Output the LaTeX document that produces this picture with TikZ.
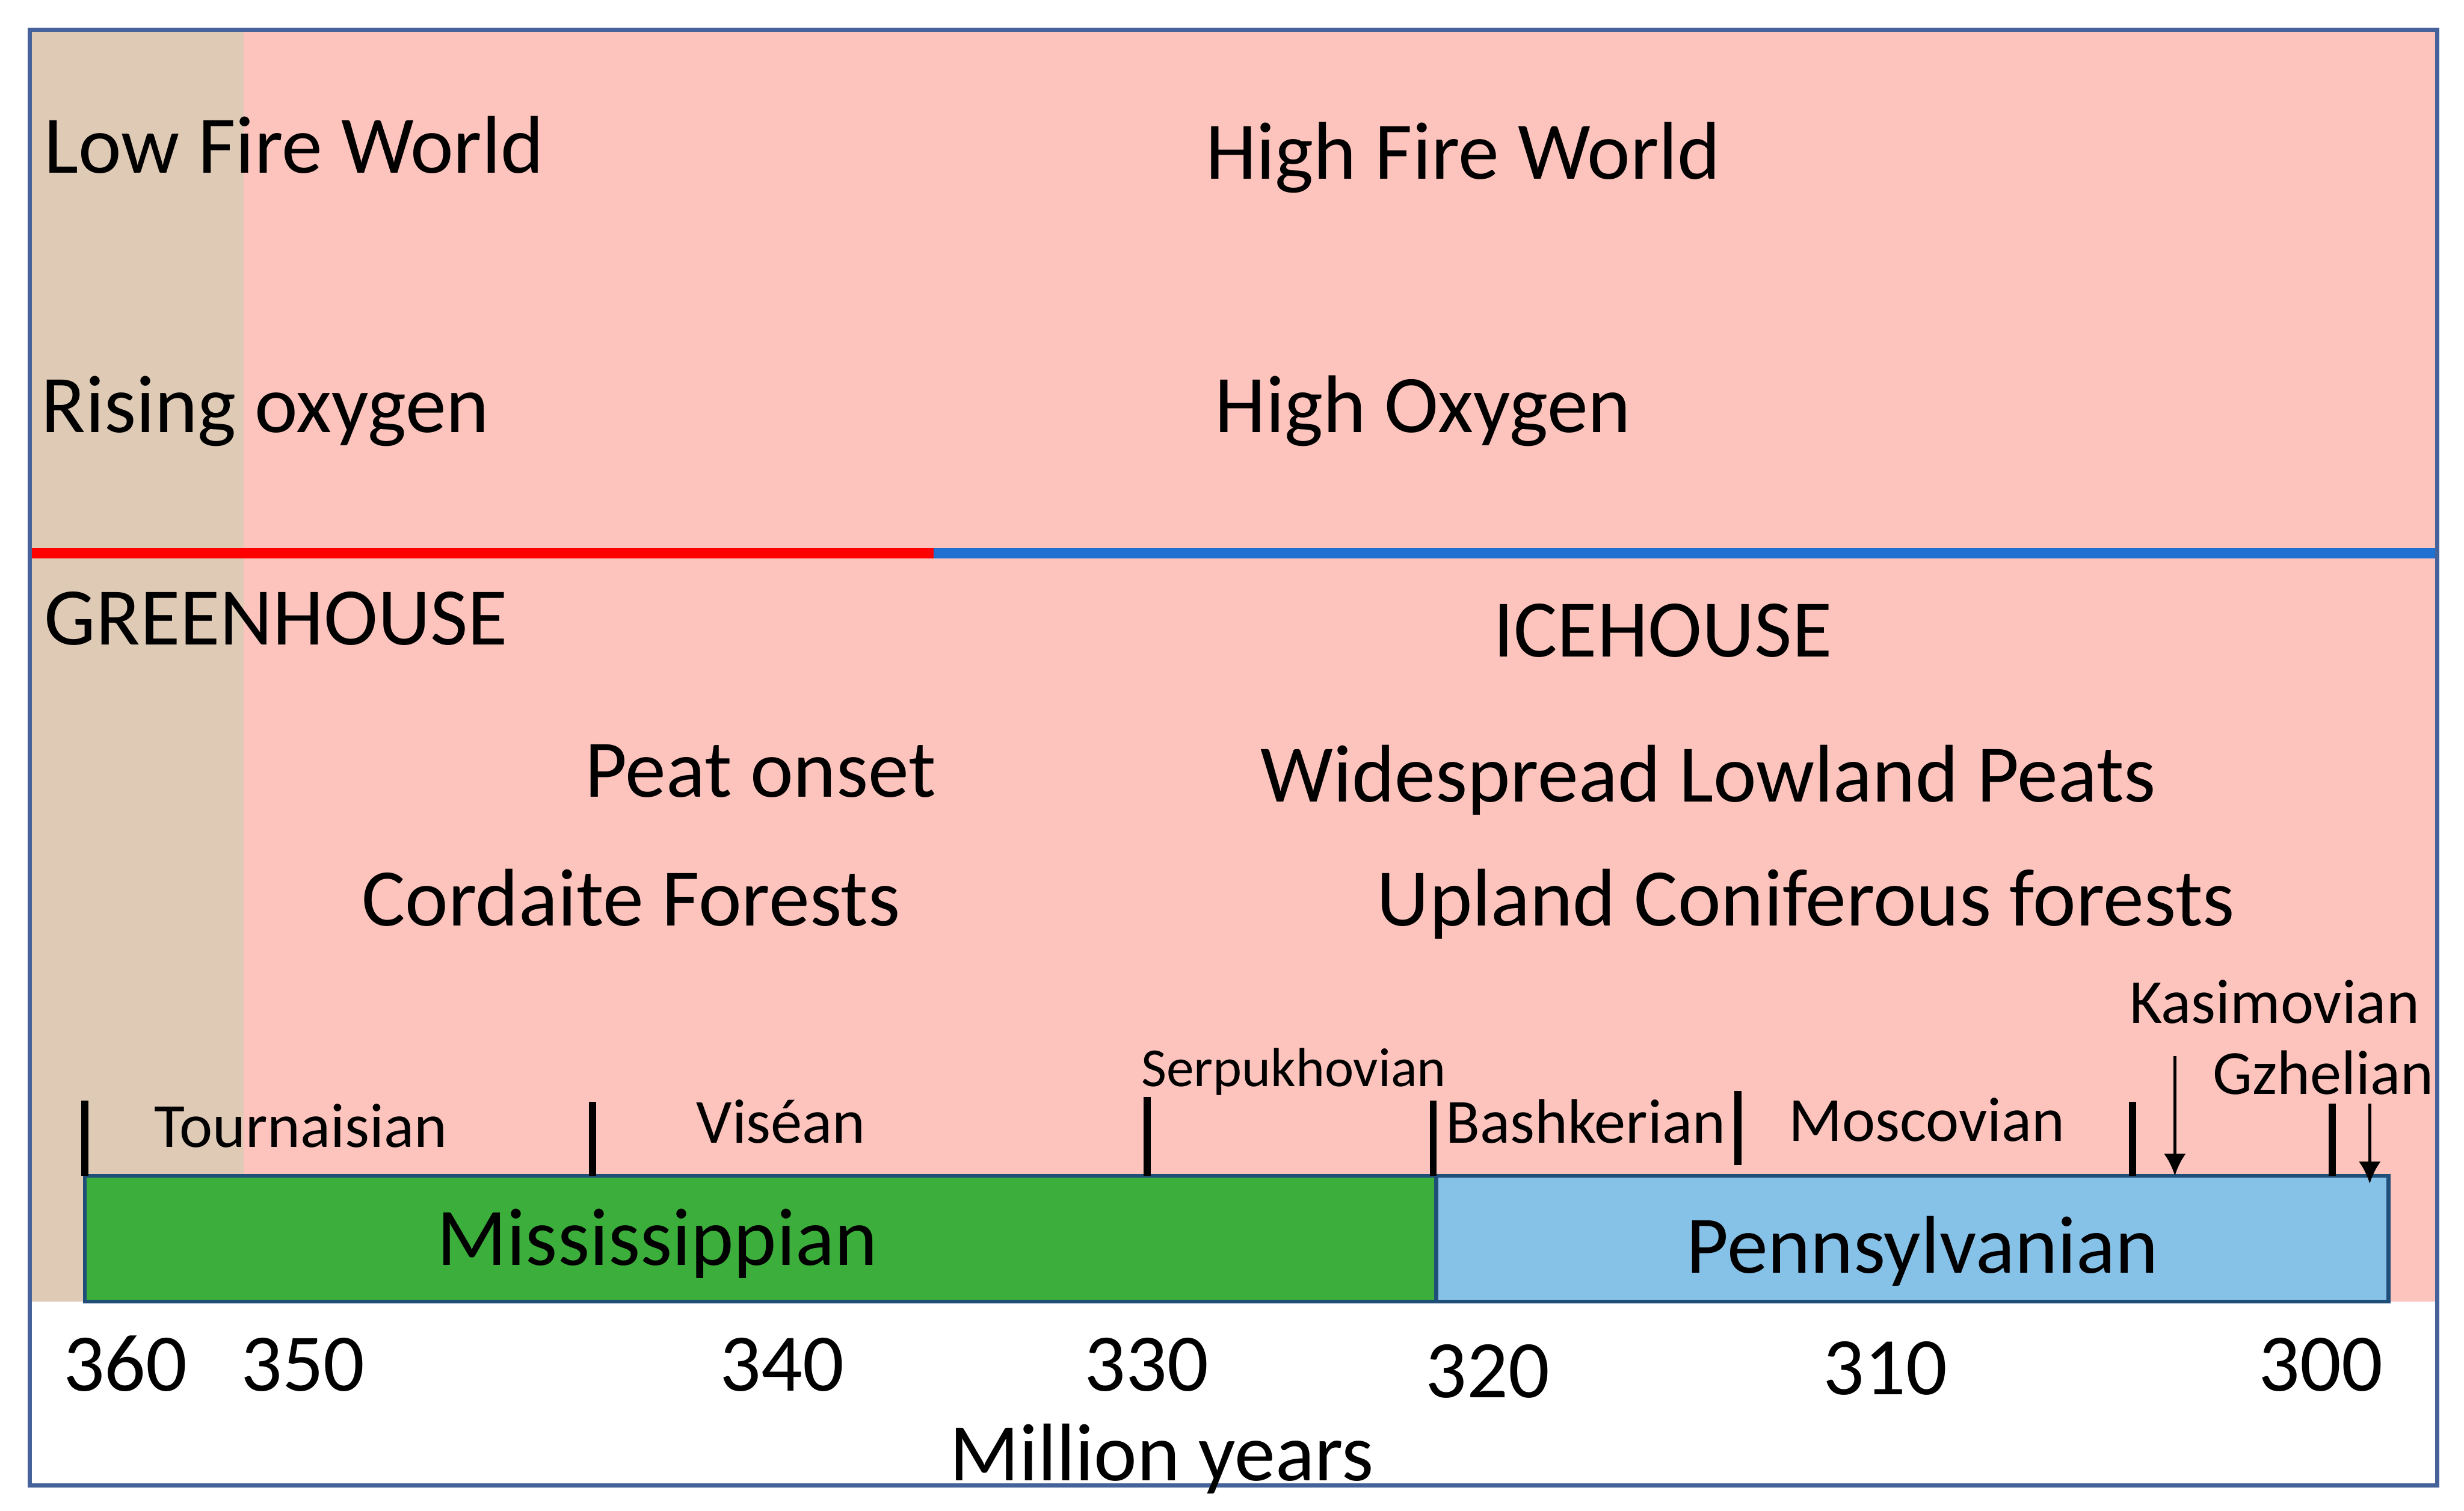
\documentclass[tikz,border=0pt]{standalone}
\usepackage{fontspec}
\setmainfont{Carlito}
\usetikzlibrary{arrows.meta}
\definecolor{pinkbg}{HTML}{FDC4BE}
\definecolor{tanbg}{HTML}{DFCAB6}
\definecolor{framecol}{HTML}{45639A}
\definecolor{barline}{HTML}{1F4E79}
\definecolor{missgreen}{HTML}{3BAE3B}
\definecolor{pennblue}{HTML}{86C1E8}
\definecolor{redline}{HTML}{FF0000}
\definecolor{blueline}{HTML}{1F70D0}
\begin{document}
\begin{tikzpicture}[x=1pt,y=-1pt,
  big/.style={anchor=base west,inner sep=0pt,font=\fontsize{52}{60}\selectfont},
  stage/.style={anchor=base west,inner sep=0pt,font=\fontsize{40}{48}\selectfont},
  smallstage/.style={anchor=base west,inner sep=0pt,font=\fontsize{35}{42}\selectfont},
  tickmark/.style={line width=4.5pt},
  arr/.style={line width=2pt,-{Latex[length=14pt,width=14pt]}},
  bar/.style={draw=barline,line width=2.5pt}]
\useasboundingbox (0,0) rectangle (1568,961);
\fill[white] (0,0) rectangle (1568,961);
% background regions
\fill[pinkbg] (19,19) rectangle (1551,828);
\fill[tanbg] (19,19) rectangle (155,828);
% greenhouse / icehouse divider
\draw[redline,line width=6.5pt] (19,352) -- (594,352);
\draw[blueline,line width=6.5pt] (594,352) -- (1551,352);
% frame
\draw[framecol,line width=2.5pt] (19,19) rectangle (1551,945);
% period bars
\draw[bar,fill=missgreen] (54,748) rectangle (914,828);
\draw[bar,fill=pennblue] (914,748) rectangle (1520,828);
% top texts
\node[big] (lowfire) at (28,110) {Low Fire World};
\node[big] (highfire) at (767,114) {High Fire World};
\node[big] (rising) at (26,275) {Rising oxygen};
\node[big] (highox) at (773,275) {High Oxygen};
\node[big] (greenhouse) at (28,410) {GREENHOUSE};
\node[big] (icehouse) at (950,418) {ICEHOUSE};
\node[big] (peat) at (372,507) {Peat onset};
\node[big] (widespread) at (802,510) {Widespread Lowland Peats};
\node[big] (cordaite) at (230,589) {Cordaite Forests};
\node[big] (upland) at (876,589) {Upland Coniferous forests};
% stages
\node[stage] (tourn) at (98,730) {Tournaisian};
\node[stage] (visean) at (443,727) {Viséan};
\node[smallstage] (serp) at (726,691) {Serpukhovian};
\node[stage] (bash) at (920,727) {Bashkerian};
\node[stage] (mosc) at (1138,726) {Moscovian};
\node[stage] (kasim) at (1355,651) {Kasimovian};
\node[stage] (gzhel) at (1408,696) {Gzhelian};
% period labels
\node[big] (miss) at (278,805) {Mississippian};
\node[big] (penn) at (1073,810) {Pennsylvanian};
% ages
\node[big] (a360) at (40,885) {360};
\node[big] (a350) at (153,885) {350};
\node[big] (a340) at (458,885) {340};
\node[big] (a330) at (690,885) {330};
\node[big] (a320) at (907,889) {320};
\node[big] (a310) at (1160,887) {310};
\node[big] (a300) at (1437,885) {300};
\node[big] (myr) at (604,942) {Million years};
% stage boundary ticks
\coordinate (t1a) at (54,700); \coordinate (t1b) at (54,748);
\coordinate (t2a) at (377,701); \coordinate (t2b) at (377,748);
\coordinate (t3a) at (730,698); \coordinate (t3b) at (730,748);
\coordinate (t4a) at (912,700); \coordinate (t4b) at (912,748);
\coordinate (t5a) at (1106,694); \coordinate (t5b) at (1106,741);
\coordinate (t6a) at (1357,701); \coordinate (t6b) at (1357,748);
\coordinate (t7a) at (1484,702); \coordinate (t7b) at (1484,748);
\foreach \i in {1,...,7} {\draw[tickmark] (t\i a) -- (t\i b);}
% arrows
\coordinate (k1) at (1384,672); \coordinate (k2) at (1384,748);
\coordinate (g1) at (1508,702); \coordinate (g2) at (1508,753);
\draw[arr] (k1) -- (k2);
\draw[arr] (g1) -- (g2);
\end{tikzpicture}
\end{document}
